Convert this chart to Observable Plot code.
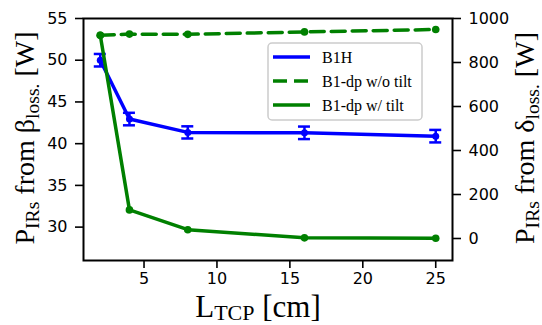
<!DOCTYPE html>
<html>
<head>
<meta charset="utf-8">
<script src="https://cdn.jsdelivr.net/npm/d3@7"></script>
<script src="https://cdn.jsdelivr.net/npm/@observablehq/plot@0.6"></script>
<style>
  html, body { margin: 0; padding: 0; background: #fff; }
</style>
</head>
<body>
<div id="chart"></div>
<script>
// ---- data ----
const L_TCP = [2, 4, 8, 16, 25];
const b1h = [50.0, 42.95, 41.35, 41.3, 40.9];          // left axis [W]
const b1hErr = [0.75, 0.75, 0.73, 0.75, 0.75];
const b1dpNoTilt = [924, 929, 928, 939, 950];           // right axis [W]
const b1dpTilt = [924, 130, 40, 3, 1];                  // right axis [W]
const leftTicks = [30, 35, 40, 45, 50, 55];
const rightTicks = [0, 200, 400, 600, 800, 1000];
const xTicks = [5, 10, 15, 20, 25];
const seriesNames = ["B1H", "B1-dp w/o tilt", "B1-dp w/ tilt"];
const seriesColors = ["#0000ff", "#008000", "#008000"];
const seriesDash = [null, "14,7", null];

// ---- scales ----
const xDomain = [0.85, 26.15];
const leftDomain = [26, 55];
const rightDomain = [-100, 1000];
const toLeft = v => leftDomain[0] + (v - rightDomain[0]) * (leftDomain[1] - leftDomain[0]) / (rightDomain[1] - rightDomain[0]);

const W = 542, H = 325;
const mL = 83, mR = 90, mT = 18, mB = 65;
const capHalf = 6 * (xDomain[1] - xDomain[0]) / (W - mL - mR);

const blue = L_TCP.map((x, i) => ({x, y: b1h[i], lo: b1h[i] - b1hErr[i], hi: b1h[i] + b1hErr[i]}));
const noTilt = L_TCP.map((x, i) => ({x, y: toLeft(b1dpNoTilt[i])}));
const tilt = L_TCP.map((x, i) => ({x, y: toLeft(b1dpTilt[i])}));

const plot = Plot.plot({
  width: W, height: H,
  marginLeft: mL, marginRight: mR, marginTop: mT, marginBottom: mB,
  style: {fontFamily: "DejaVu Sans", fontSize: "16px", color: "black", background: "white"},
  x: {domain: xDomain, label: null},
  y: {domain: leftDomain, label: null},
  marks: [
    Plot.axisX({ticks: xTicks, tickSize: 8, tickPadding: 4, strokeWidth: 1.6, label: null, fontSize: 16}),
    Plot.axisY({anchor: "left", ticks: leftTicks, tickSize: 8, tickPadding: 8, strokeWidth: 1.6, label: null, fontSize: 16}),
    Plot.axisY({anchor: "right", ticks: rightTicks.map(toLeft), tickFormat: (d, i) => String(rightTicks[i]),
                tickSize: 8, tickPadding: 8, strokeWidth: 1.6, label: null, fontSize: 16}),
    // B1H with error bars
    Plot.line(blue, {x: "x", y: "y", stroke: seriesColors[0], strokeWidth: 3.5}),
    Plot.ruleX(blue, {x: "x", y1: "lo", y2: "hi", stroke: seriesColors[0], strokeWidth: 2.5}),
    Plot.ruleY(blue, {y: "lo", x1: d => d.x - capHalf, x2: d => d.x + capHalf, stroke: seriesColors[0], strokeWidth: 2.5}),
    Plot.ruleY(blue, {y: "hi", x1: d => d.x - capHalf, x2: d => d.x + capHalf, stroke: seriesColors[0], strokeWidth: 2.5}),
    Plot.dot(blue, {x: "x", y: "y", r: 3.5, fill: seriesColors[0]}),
    // B1-dp w/o tilt (dashed)
    Plot.line(noTilt, {x: "x", y: "y", stroke: seriesColors[1], strokeWidth: 3.5, strokeDasharray: seriesDash[1]}),
    Plot.dot(noTilt, {x: "x", y: "y", r: 3.8, fill: seriesColors[1]}),
    // B1-dp w/ tilt (solid)
    Plot.line(tilt, {x: "x", y: "y", stroke: seriesColors[2], strokeWidth: 3.5}),
    Plot.dot(tilt, {x: "x", y: "y", r: 3.8, fill: seriesColors[2]}),
    Plot.frame({stroke: "black", strokeWidth: 2})
  ]
});
document.getElementById("chart").appendChild(plot);

// ---- legend & axis titles (real SVG text) ----
const svg = d3.select(plot);
const serif = "'Liberation Serif', 'Times New Roman', serif";

const lg = svg.append("g");
lg.append("rect").attr("x", 268).attr("y", 43).attr("width", 154).attr("height", 77)
  .attr("rx", 4).attr("fill", "white").attr("fill-opacity", 0.85)
  .attr("stroke", "#cccccc").attr("stroke-width", 1.5);
seriesNames.forEach((name, i) => {
  const yy = 57 + i * 24;
  lg.append("line").attr("x1", 273).attr("x2", 310).attr("y1", yy).attr("y2", yy)
    .attr("stroke", seriesColors[i]).attr("stroke-width", 3.5)
    .attr("stroke-dasharray", seriesDash[i]);
  lg.append("text").attr("x", 322).attr("y", yy + 6).attr("text-anchor", "start")
    .style("font-family", serif).style("font-size", "16px").attr("fill", "black").text(name);
});

// x label: L_TCP [cm]
{
  const t = svg.append("text").style("font-family", serif).style("font-size", "31px")
    .attr("fill", "black").attr("text-anchor", "middle")
    .attr("transform", `translate(258,317)`);
  t.append("tspan").text("L");
  t.append("tspan").style("font-size", "22px").attr("dy", 3).text("TCP");
  t.append("tspan").attr("dy", -3).text(" [cm]");
}
// y labels: P_IRs from β_loss. [W]
function yLabel(x, greek) {
  const t = svg.append("text").style("font-family", serif).style("font-size", "28px")
    .attr("fill", "black").attr("text-anchor", "middle")
    .attr("transform", `translate(${x},138) rotate(-90)`);
  t.append("tspan").text("P");
  t.append("tspan").style("font-size", "19.6px").attr("dy", 5).text("IRs");
  t.append("tspan").attr("dy", -5).text(" from " + greek);
  t.append("tspan").style("font-size", "19.6px").attr("dy", 5).text("loss.");
  t.append("tspan").attr("dy", -5).text(" [W]");
}
yLabel(33.5, "β");
yLabel(534, "δ");
</script>
</body>
</html>
